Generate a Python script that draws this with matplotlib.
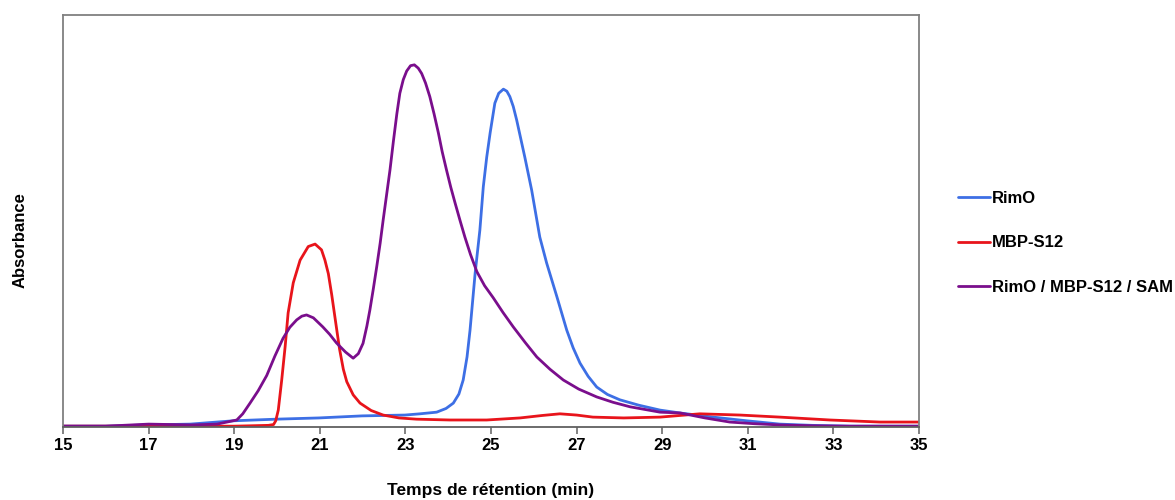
import matplotlib
matplotlib.use("Agg")
import matplotlib.pyplot as plt

plt.rcParams['font.family'] = ['Liberation Sans', 'DejaVu Sans']

# RimO
rimo_x = [15.00, 15.98, 16.99, 17.97, 18.97, 19.98, 20.98, 21.99, 22.99, 23.34, 23.73, 23.95,
          24.12, 24.25, 24.35, 24.44, 24.51, 24.63, 24.74, 24.82, 24.90, 24.98, 25.09, 25.18,
          25.29, 25.37, 25.44, 25.52, 25.60, 25.79, 25.95, 26.14, 26.30, 26.54, 26.77, 26.92,
          27.08, 27.27, 27.47, 27.72, 28.01, 28.45, 28.95, 29.42, 30.19, 30.98, 31.75, 32.50,
          33.39, 35.00]
rimo_y = [0.002, 0.002, 0.005, 0.007, 0.015, 0.019, 0.022, 0.027, 0.029, 0.032, 0.036, 0.045,
          0.058, 0.080, 0.114, 0.170, 0.235, 0.374, 0.478, 0.583, 0.655, 0.714, 0.786, 0.810,
          0.820, 0.815, 0.802, 0.778, 0.745, 0.655, 0.575, 0.461, 0.398, 0.316, 0.235, 0.192,
          0.155, 0.123, 0.097, 0.079, 0.066, 0.053, 0.041, 0.034, 0.024, 0.015, 0.007, 0.004,
          0.002, 0.002]

# MBP-S12
mbp_x = [15.00, 17.00, 19.00, 19.80, 19.92, 19.97, 20.03, 20.11, 20.19, 20.26, 20.38, 20.54,
         20.73, 20.89, 21.04, 21.12, 21.20, 21.28, 21.36, 21.46, 21.55, 21.63, 21.78, 21.94,
         22.20, 22.48, 22.85, 23.26, 24.04, 24.90, 25.68, 26.20, 26.61, 27.00, 27.38, 28.10,
         28.95, 29.88, 30.82, 31.75, 32.92, 34.09, 35.00]
mbp_y = [0.002, 0.002, 0.002, 0.004, 0.006, 0.015, 0.041, 0.114, 0.195, 0.277, 0.350, 0.405,
         0.438, 0.444, 0.430, 0.405, 0.372, 0.320, 0.262, 0.190, 0.140, 0.110, 0.078, 0.058,
         0.040, 0.029, 0.022, 0.019, 0.017, 0.017, 0.022, 0.028, 0.032, 0.029, 0.024, 0.022,
         0.024, 0.032, 0.029, 0.024, 0.017, 0.012, 0.012]

# RimO / MBP-S12 / SAM
mix_x = [15.00, 16.00, 17.00, 18.00, 18.60, 19.06, 19.20, 19.37, 19.56, 19.76, 19.95, 20.14,
         20.30, 20.46, 20.58, 20.69, 20.85, 21.07, 21.23, 21.39, 21.60, 21.78, 21.90, 22.01,
         22.10, 22.17, 22.25, 22.33, 22.41, 22.48, 22.56, 22.64, 22.72, 22.80, 22.87, 22.95,
         23.03, 23.12, 23.21, 23.30, 23.38, 23.47, 23.57, 23.67, 23.77, 23.86, 23.96, 24.06,
         24.16, 24.28, 24.39, 24.52, 24.67, 24.85, 25.05, 25.28, 25.52, 25.80, 26.07, 26.38,
         26.69, 27.05, 27.47, 27.85, 28.25, 28.95, 29.42, 30.00, 30.58, 31.15, 31.75, 32.50,
         33.39, 35.00]
mix_y = [0.002, 0.002, 0.007, 0.005, 0.007, 0.017, 0.032, 0.058, 0.088, 0.125, 0.172, 0.215,
         0.242, 0.260, 0.269, 0.272, 0.265, 0.243, 0.225, 0.204, 0.182, 0.167, 0.178, 0.203,
         0.245, 0.284, 0.335, 0.389, 0.446, 0.502, 0.563, 0.624, 0.694, 0.760, 0.810, 0.843,
         0.864, 0.877, 0.879, 0.871, 0.858, 0.835, 0.802, 0.760, 0.714, 0.668, 0.624, 0.582,
         0.544, 0.500, 0.461, 0.419, 0.377, 0.343, 0.314, 0.278, 0.243, 0.205, 0.170, 0.140,
         0.114, 0.092, 0.073, 0.060, 0.049, 0.036, 0.034, 0.022, 0.012, 0.008, 0.005, 0.003,
         0.002, 0.002]

labels = ['RimO', 'MBP-S12', 'RimO / MBP-S12 / SAM']
colors = ['#3D6FE5', '#E8141B', '#7A0E8C']
xticks = [15, 17, 19, 21, 23, 25, 27, 29, 31, 33, 35]

fig = plt.figure(figsize=(11.75, 5.0), dpi=100)
ax = fig.add_axes([63 / 1175, 1 - 427 / 500, (919 - 63) / 1175, (427 - 15) / 500])

for xs, ys, lab, col in zip([rimo_x, mbp_x, mix_x], [rimo_y, mbp_y, mix_y], labels, colors):
    ax.plot(xs, ys, color=col, lw=2.0, label=lab, solid_joinstyle='round',
            solid_capstyle='round')

ax.set_xlim(15, 35)
ax.set_ylim(0, 1.0)
ax.set_xticks(xticks)
ax.set_xticklabels([str(t) for t in xticks], fontsize=12, fontweight='bold')
ax.set_yticks([])
for s in ax.spines.values():
    s.set_color('#808080')
    s.set_linewidth(1.3)
ax.spines['bottom'].set_color('#606060')
ax.tick_params(axis='x', direction='out', length=5, width=1.1, color='#606060', pad=3)

fig.text(491 / 1175, 1 - 490 / 500, 'Temps de rétention (min)', ha='center', va='center',
         fontsize=12.5, fontweight='bold')
fig.text(20 / 1175, 1 - 240 / 500, 'Absorbance', ha='center', va='center', rotation=90,
         fontsize=12, fontweight='bold')

leg = ax.legend(loc='center left', bbox_to_anchor=(1.028, 0.447), frameon=False,
                prop={'weight': 'bold', 'size': 12}, handlelength=1.9, handletextpad=0.12,
                labelspacing=1.78)

fig.savefig('out.png', dpi=100)
